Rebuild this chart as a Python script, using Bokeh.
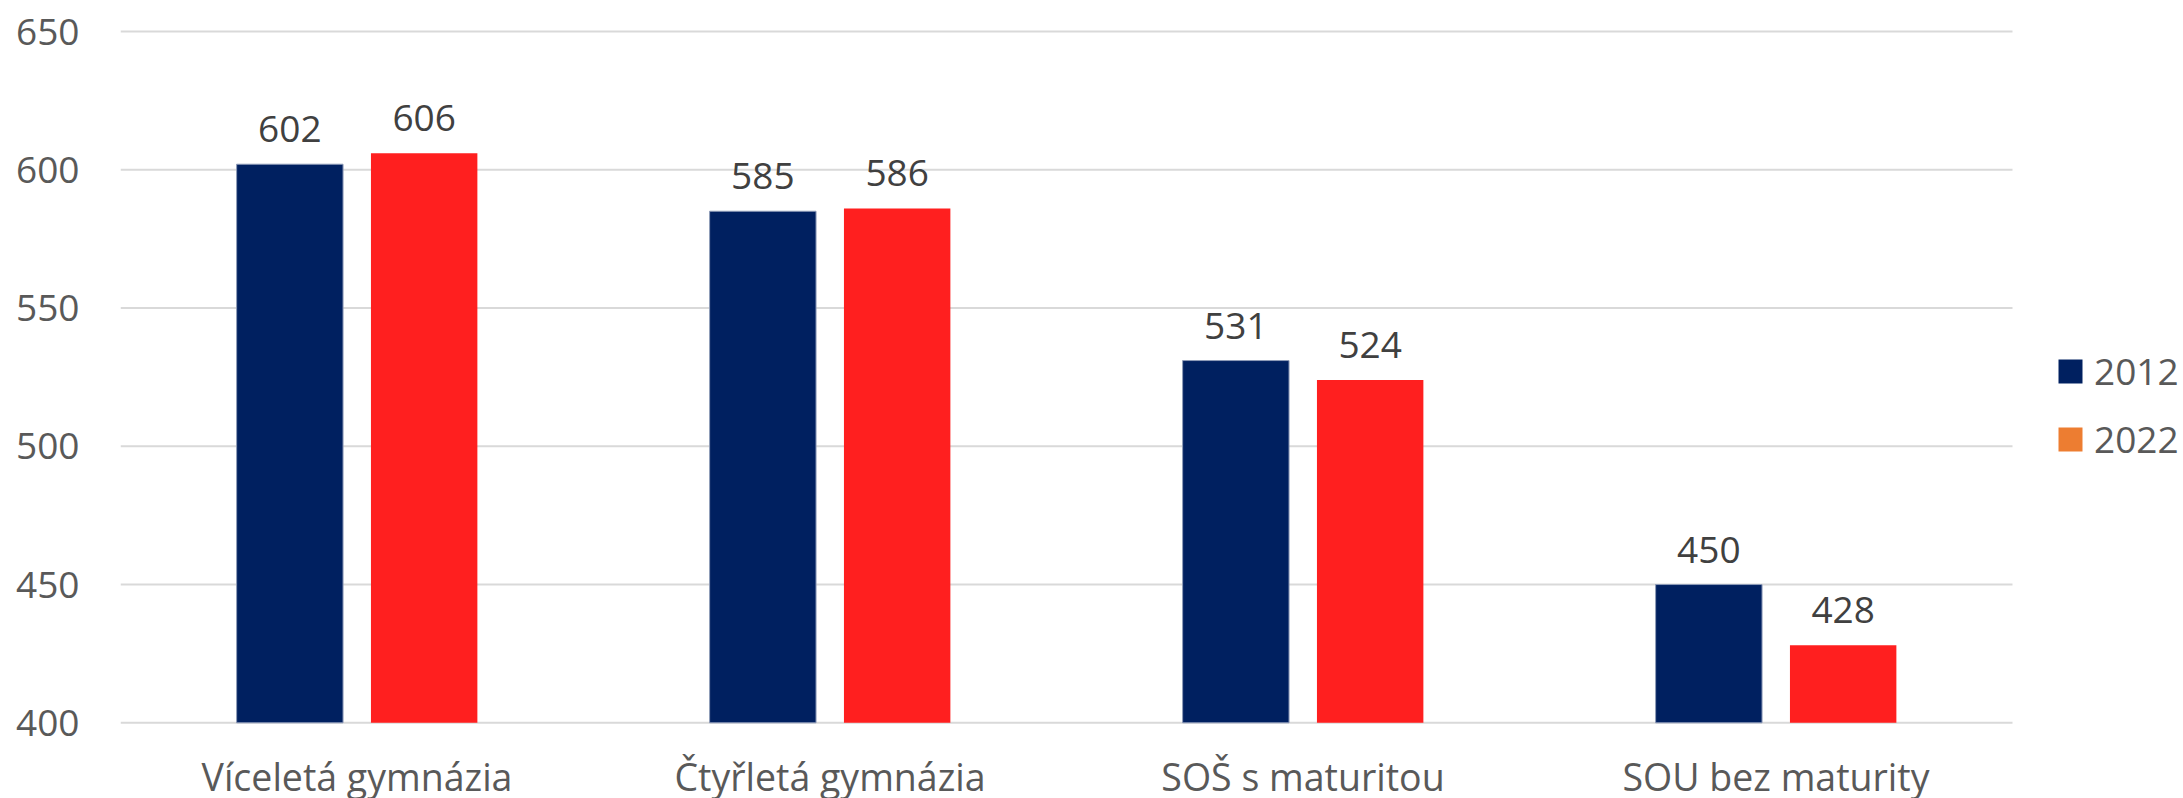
from bokeh.plotting import figure
from bokeh.models import (ColumnDataSource, Range1d, FixedTicker,
                          LabelSet, Legend, LegendItem)
from bokeh.core.properties import value
from bokeh.embed import file_html
from bokeh.resources import INLINE

categories = ["Víceletá gymnázia", "Čtyřletá gymnázia", "SOŠ s maturitou", "SOU bez maturity"]
values_2012 = [602, 585, 531, 450]
values_2022 = [606, 586, 524, 428]
series_names = ["2012", "2022"]
y_ticks = [400, 450, 500, 550, 600, 650]

FONT = "Open Sans"
FS = "37px"
C2012 = "#002060"
C2022 = "#FF1F1F"
C2022_LEGEND = "#ED7D31"
AXIS_TEXT = "#595959"
LABEL_TEXT = "#404040"
GRID = "#D9D9D9"

W, H = 2183, 798
LEFT = 120            # plot area left (px)
PLOT_RIGHT = 2012     # end of the category area (px)
Y_TOP_PX, Y_BOT_PX = 31, 722.3   # pixel rows of 650 and 400
n = len(categories)
px_per_cat = (PLOT_RIGHT - LEFT) / n
x_end = (W - LEFT) / px_per_cat
px_per_unit = (Y_BOT_PX - Y_TOP_PX) / (y_ticks[-1] - y_ticks[0])
y_end = y_ticks[-1] + Y_TOP_PX / px_per_unit
y_start = y_ticks[0] - (H - Y_BOT_PX) / px_per_unit

OFF = 0.142
BW = 0.225
centers = [i + 0.5 for i in range(n)]

source = ColumnDataSource(dict(
    xc=centers,
    x1=[c - OFF for c in centers],
    x2=[c + OFF for c in centers],
    cat=categories,
    base=[y_ticks[0]] * n,
    v2012=values_2012,
    v2022=values_2022,
    t2012=[str(v) for v in values_2012],
    t2022=[str(v) for v in values_2022],
))

p = figure(x_range=Range1d(0, x_end), y_range=Range1d(y_start, y_end),
           width=W, height=H, x_axis_location=None,
           output_backend="svg", toolbar_location=None,
           min_border_left=LEFT, min_border_right=0,
           min_border_top=0, min_border_bottom=0)

# horizontal gridlines spanning the category area only
p.segment(x0=[0] * len(y_ticks), x1=[n] * len(y_ticks), y0=y_ticks, y1=y_ticks,
          line_color=GRID, line_width=2)

r1 = p.vbar(x="x1", top="v2012", bottom="base", width=BW,
            source=source, fill_color=C2012, line_color="#8E9BB8", line_width=1)
r2 = p.vbar(x="x2", top="v2022", bottom="base", width=BW,
            source=source, fill_color=C2022, line_color=None)

for xcol, col in (("x1", "v2012"), ("x2", "v2022")):
    p.add_layout(LabelSet(x=xcol, y=col, text="t" + col[1:], source=source,
                          text_align="center", text_baseline="alphabetic", y_offset=22,
                          text_font=value(FONT), text_font_size=FS, text_color=LABEL_TEXT))

# category labels under the baseline
p.add_layout(LabelSet(x="xc", y="base", text="cat", source=source,
                      text_align="center", text_baseline="alphabetic", y_offset=-68,
                      text_font=value(FONT), text_font_size="37.5px", text_color=AXIS_TEXT))

# legend swatches: the 2022 swatch is orange in the original
leg_src = ColumnDataSource(dict(x=[float("nan")], top=[float("nan")], bottom=[float("nan")]))
leg1 = p.vbar(x="x", top="top", bottom="bottom", width=BW, source=leg_src,
              fill_color=C2012, line_color=None)
leg2 = p.vbar(x="x", top="top", bottom="bottom", width=BW, source=leg_src,
              fill_color=C2022_LEGEND, line_color=None)

legend = Legend(items=[LegendItem(label=series_names[0], renderers=[leg1]),
                       LegendItem(label=series_names[1], renderers=[leg2])],
                location=(1935, 334), orientation="vertical",
                glyph_width=30, glyph_height=30, label_standoff=9, spacing=17,
                padding=0, margin=0, border_line_color=None, background_fill_alpha=0,
                label_text_font=FONT, label_text_font_size=FS, label_text_color=AXIS_TEXT)
p.add_layout(legend)

p.yaxis.ticker = FixedTicker(ticks=y_ticks)
p.yaxis.major_label_text_font = FONT
p.yaxis.major_label_text_font_size = FS
p.yaxis.major_label_text_color = AXIS_TEXT
p.yaxis.axis_line_color = None
p.yaxis.major_tick_line_color = None
p.yaxis.minor_tick_line_color = None
p.yaxis.major_tick_out = 0
p.yaxis.minor_tick_out = 0
p.yaxis.major_label_standoff = 41

p.xgrid.grid_line_color = None
p.ygrid.grid_line_color = None
p.outline_line_color = None

open("out.html", "w").write(file_html(p, INLINE))
